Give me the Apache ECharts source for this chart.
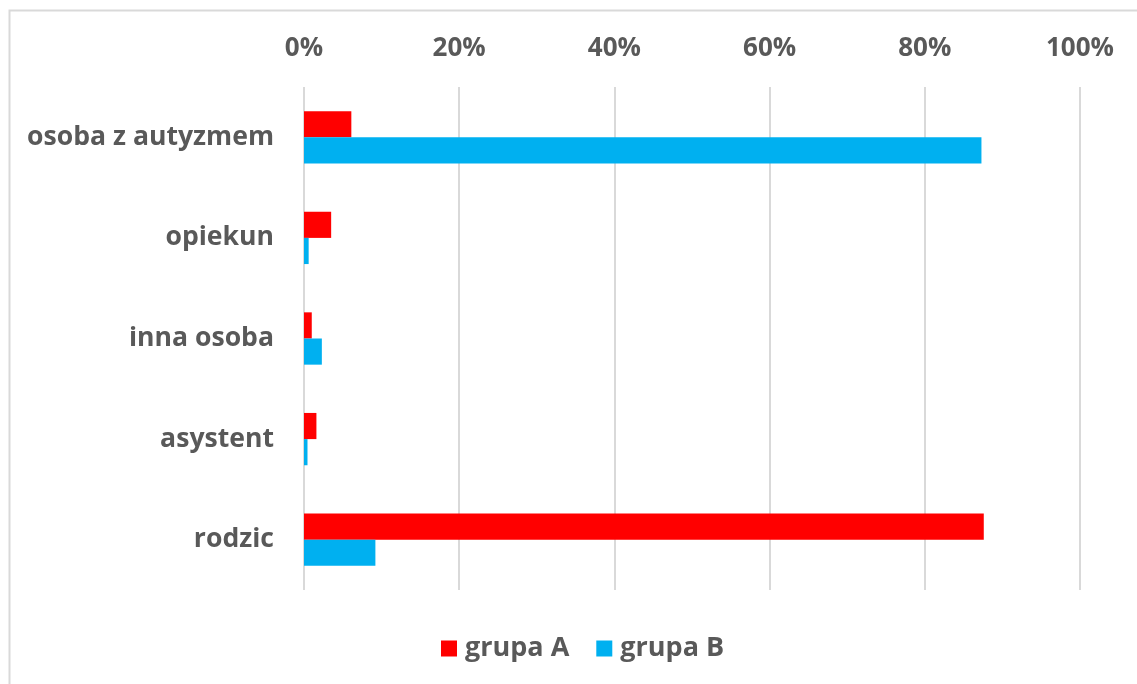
<!DOCTYPE html>
<html>
<head>
<meta charset="utf-8">
<script src="https://cdn.jsdelivr.net/npm/echarts@6/dist/echarts.min.js"></script>
<style>
  html, body { margin: 0; padding: 0; background: #fff; }
  #chart { width: 1137px; height: 684px; }
</style>
</head>
<body>
<div id="chart"></div>
<script>
// Respondent categories, top to bottom
const categories = ['osoba z autyzmem', 'opiekun', 'inna osoba', 'asystent', 'rodzic'];
// Share of answers per group, in percent
const grupaA = [6.1, 3.5, 1.0, 1.6, 87.6];
const grupaB = [87.3, 0.6, 2.3, 0.45, 9.2];
const seriesNames = ['grupa A', 'grupa B'];
const colors = ['#ff0000', '#00b0f0'];

const textColor = '#595959';
const fontFamily = '"Open Sans", sans-serif';
const fontSize = 26;

const chart = echarts.init(document.getElementById('chart'), null, { renderer: 'canvas' });
chart.setOption({
  animation: false,
  backgroundColor: '#ffffff',
  graphic: [{
    type: 'rect',
    shape: { x: 9.5, y: 10.5, width: 1140, height: 690 },
    style: { fill: 'none', stroke: '#d9d9d9', lineWidth: 2 },
    silent: true
  }],
  grid: { left: 304, right: 57, top: 87, bottom: 94, containLabel: false },
  legend: {
    top: 635,
    left: 441,
    padding: 0,
    itemWidth: 16,
    itemHeight: 16,
    itemGap: 27,
    icon: 'rect',
    textStyle: { color: textColor, fontFamily, fontSize: 27, fontWeight: 'bold', padding: [0, 0, 0, 3] },
    data: seriesNames
  },
  xAxis: {
    type: 'value',
    position: 'top',
    min: 0,
    max: 100,
    interval: 20,
    axisLine: { show: false },
    axisTick: { show: false },
    splitLine: { lineStyle: { color: '#d9d9d9', width: 2 } },
    axisLabel: {
      formatter: '{value}%',
      color: textColor,
      fontFamily,
      fontSize,
      fontWeight: 'bold',
      margin: 25
    }
  },
  yAxis: {
    type: 'category',
    inverse: true,
    data: categories,
    axisLine: { show: false },
    axisTick: { show: false },
    axisLabel: {
      color: textColor,
      fontFamily,
      fontSize: 26.6,
      fontWeight: 'bold',
      margin: 30,
      padding: [9, 0, 0, 0]
    }
  },
  series: [
    { name: seriesNames[0], type: 'bar', data: grupaA, itemStyle: { color: colors[0] }, barGap: '0%', barCategoryGap: '48%' },
    { name: seriesNames[1], type: 'bar', data: grupaB, itemStyle: { color: colors[1] }, barGap: '0%', barCategoryGap: '48%' }
  ]
});
</script>
</body>
</html>
